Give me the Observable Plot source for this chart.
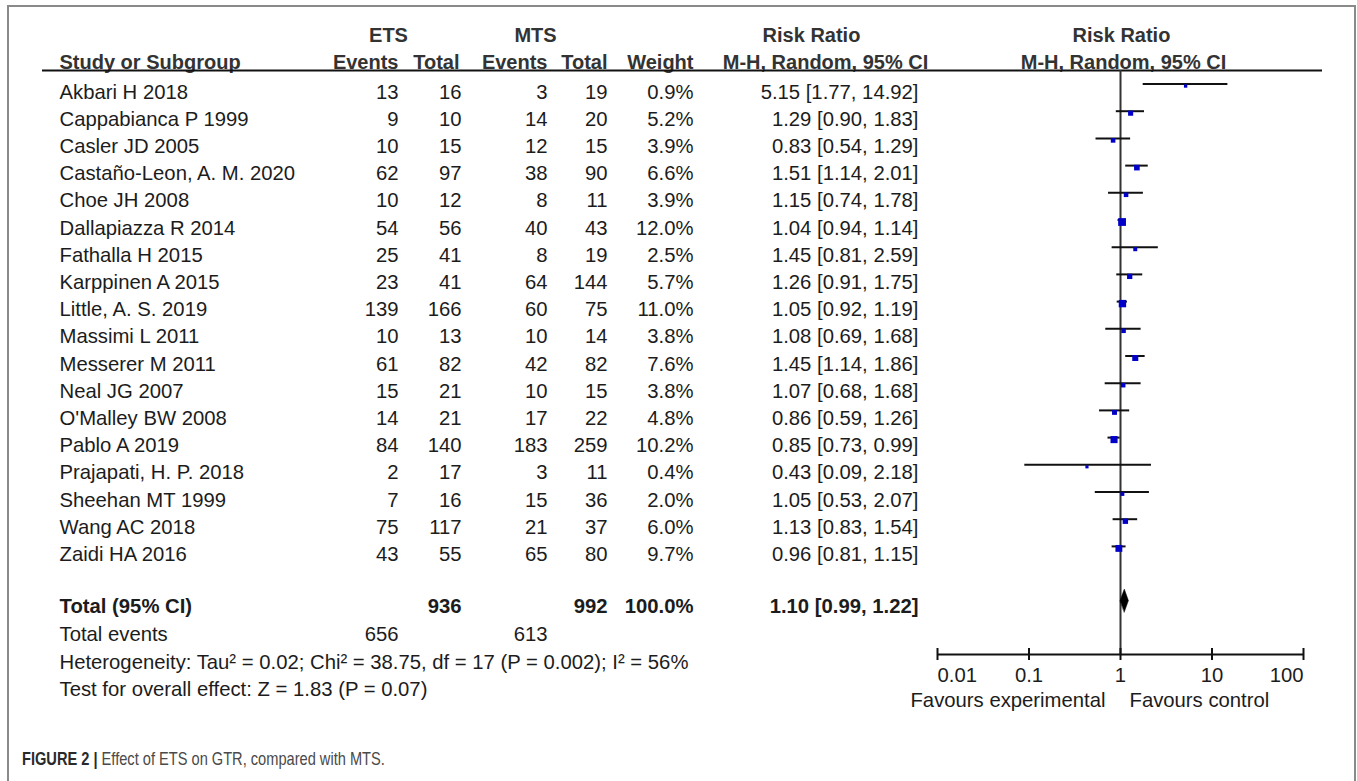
<!DOCTYPE html>
<html>
<head>
<meta charset="utf-8">
<script src="https://cdn.jsdelivr.net/npm/d3@7"></script>
<script src="https://cdn.jsdelivr.net/npm/@observablehq/plot@0.6"></script>
<style>
  html, body { margin: 0; padding: 0; background: #fff; overflow: hidden; width: 1357px; height: 781px; }
  #chart { position: absolute; left: 0; top: 0; z-index: 1; }
  #frame { position: absolute; left: 7px; top: 5px; width: 1349px; height: 830px; border: 2px solid #8a8a8a; box-sizing: border-box; z-index: 2; background: transparent; }
  #caption { position: absolute; left: 22px; top: 748px; z-index: 3; font-family: "Liberation Sans", Arial, sans-serif; font-size: 18.5px; color: #4a4a4a; white-space: nowrap; transform: scaleX(0.79); transform-origin: left center; }
  #caption b { color: #2a2a2a; }
</style>
</head>
<body>
<div id="chart"></div>
<div id="frame"></div>
<div id="caption"><b>FIGURE 2 |</b> Effect of ETS on GTR, compared with MTS.</div>
<script>
// ---------------- data ----------------
const studies = ["Akbari H 2018", "Cappabianca P 1999", "Casler JD 2005", "Castaño-Leon, A. M. 2020", "Choe JH 2008",
  "Dallapiazza R 2014", "Fathalla H 2015", "Karppinen A 2015", "Little, A. S. 2019", "Massimi L 2011",
  "Messerer M 2011", "Neal JG 2007", "O'Malley BW 2008", "Pablo A 2019", "Prajapati, H. P. 2018",
  "Sheehan MT 1999", "Wang AC 2018", "Zaidi HA 2016"];
const etsEvents = [13, 9, 10, 62, 10, 54, 25, 23, 139, 10, 61, 15, 14, 84, 2, 7, 75, 43];
const etsTotal  = [16, 10, 15, 97, 12, 56, 41, 41, 166, 13, 82, 21, 21, 140, 17, 16, 117, 55];
const mtsEvents = [3, 14, 12, 38, 8, 40, 8, 64, 60, 10, 42, 10, 17, 183, 3, 15, 21, 65];
const mtsTotal  = [19, 20, 15, 90, 11, 43, 19, 144, 75, 14, 82, 15, 22, 259, 11, 36, 37, 80];
const weights   = [0.9, 5.2, 3.9, 6.6, 3.9, 12.0, 2.5, 5.7, 11.0, 3.8, 7.6, 3.8, 4.8, 10.2, 0.4, 2.0, 6.0, 9.7];
const riskRatio = [5.15, 1.29, 0.83, 1.51, 1.15, 1.04, 1.45, 1.26, 1.05, 1.08, 1.45, 1.07, 0.86, 0.85, 0.43, 1.05, 1.13, 0.96];
const ciLow     = [1.77, 0.90, 0.54, 1.14, 0.74, 0.94, 0.81, 0.91, 0.92, 0.69, 1.14, 0.68, 0.59, 0.73, 0.09, 0.53, 0.83, 0.81];
const ciHigh    = [14.92, 1.83, 1.29, 2.01, 1.78, 1.14, 2.59, 1.75, 1.19, 1.68, 1.86, 1.68, 1.26, 0.99, 2.18, 2.07, 1.54, 1.15];

const totalEts = 936, totalMts = 992, totalWeight = 100.0;
const totalRR = 1.10, totalLow = 0.99, totalHigh = 1.22;
const totalEventsEts = 656, totalEventsMts = 613;
const tau2 = "0.02", chi2 = "38.75", dfHet = 17, pHet = "0.002", i2 = 56;
const zOverall = "1.83", pOverall = "0.07";

const xTicks = [0.01, 0.1, 1, 10, 100];
const xTickLabels = ["0.01", "0.1", "1", "10", "100"];
const groupHeaders = ["ETS", "MTS", "Risk Ratio", "Risk Ratio"];
const columnHeaders = ["Study or Subgroup", "Events", "Total", "Events", "Total", "Weight", "M-H, Random, 95% CI", "M-H, Random, 95% CI"];
const favours = ["Favours experimental", "Favours control"];

// ---------------- layout ----------------
const W = 1357, H = 720;
const row0 = 91.5, rowStep = 27.2, axisPx = 654;
const axisRow = (axisPx - row0) / rowStep;
const headerRuleRow = (70 - row0) / rowStep;
const totalRow = 18.9, eventsRow = 19.95, hetRow = 20.97, testRow = 21.97;
const col = {study: 59, etsE: 398, etsT: 461, mtsE: 547, mtsT: 607, weight: 693, rr: 918};
const ink = "#1c1c1c", headInk = "#333";
const fs = 20.3;
const fmt2 = v => v.toFixed(2);
const ciText = (e, l, h) => `${fmt2(e)} [${fmt2(l)}, ${fmt2(h)}]`;

const rows = studies.map((s, i) => ({
  i, study: s, etsE: etsEvents[i], etsT: etsTotal[i], mtsE: mtsEvents[i], mtsT: mtsTotal[i],
  w: weights[i], rr: riskRatio[i], lo: ciLow[i], hi: ciHigh[i]
}));

const dh = 11.5 / rowStep;
const diamond = [
  {x: totalLow, y: totalRow}, {x: totalRR, y: totalRow - dh},
  {x: totalHigh, y: totalRow}, {x: totalRR, y: totalRow + dh}
];

const colText = (key, dx, extra = {}) => Plot.text(rows, {
  y: "i", text: d => String(d[key]), frameAnchor: "left", dx, textAnchor: "end",
  fontSize: fs, fill: ink, lineAnchor: "middle", ...extra
});

const footText = (t, y, dx, anchor, bold) => Plot.text([t], {
  y: () => y, text: d => d, frameAnchor: "left", dx, textAnchor: anchor, lineAnchor: "middle",
  fontSize: fs, fill: ink, fontWeight: bold ? "bold" : "normal"
});

const headText = (t, dx, dy, anchor) => Plot.text([t], {
  text: d => d, frameAnchor: "top-left", dx, dy, textAnchor: anchor, lineAnchor: "middle",
  fontSize: 20, fontWeight: "bold", fill: headInk
});

const chart = Plot.plot({
  width: W, height: H,
  marginLeft: 0, marginRight: 0, marginTop: 0, marginBottom: H - axisPx,
  x: {type: "log", domain: [0.01, 100], range: [937, 1303], axis: null},
  y: {type: "linear", domain: [0, axisRow], range: [row0, axisPx], axis: null},
  r: {type: "linear", domain: [0, 12], range: [1.7, 4.4]},
  style: {fontFamily: "'Liberation Sans', Arial, sans-serif", fontSize: "20px", background: "transparent", color: ink, overflow: "visible"},
  marks: [
    // header texts
    headText(groupHeaders[0], 388, 35, "middle"),
    headText(groupHeaders[1], 535, 35, "middle"),
    headText(groupHeaders[2], 811, 35, "middle"),
    headText(groupHeaders[3], 1121, 35, "middle"),
    headText(columnHeaders[0], col.study, 62, "start"),
    headText(columnHeaders[1], col.etsE, 62, "end"),
    headText(columnHeaders[2], col.etsT - 2, 62, "end"),
    headText(columnHeaders[3], col.mtsE, 62, "end"),
    headText(columnHeaders[4], col.mtsT, 62, "end"),
    headText(columnHeaders[5], col.weight, 62, "end"),
    headText(columnHeaders[6], 825, 62, "middle"),
    headText(columnHeaders[7], 1123, 62, "middle"),
    // header rule
    Plot.ruleY([headerRuleRow], {insetLeft: 42, insetRight: 35, stroke: "#111", strokeWidth: 2}),
    // table rows
    Plot.text(rows, {y: "i", text: "study", frameAnchor: "left", dx: col.study, textAnchor: "start", lineAnchor: "middle", fontSize: fs, fill: ink}),
    colText("etsE", col.etsE),
    colText("etsT", col.etsT),
    colText("mtsE", col.mtsE),
    colText("mtsT", col.mtsT),
    Plot.text(rows, {y: "i", text: d => d.w.toFixed(1) + "%", frameAnchor: "left", dx: col.weight, textAnchor: "end", lineAnchor: "middle", fontSize: fs, fill: ink}),
    Plot.text(rows, {y: "i", text: d => ciText(d.rr, d.lo, d.hi), frameAnchor: "left", dx: col.rr, textAnchor: "end", lineAnchor: "middle", fontSize: fs, fill: ink}),
    // totals
    footText("Total (95% CI)", totalRow, col.study, "start", true),
    footText(String(totalEts), totalRow, col.etsT, "end", true),
    footText(String(totalMts), totalRow, col.mtsT, "end", true),
    footText(totalWeight.toFixed(1) + "%", totalRow, col.weight, "end", true),
    footText(ciText(totalRR, totalLow, totalHigh), totalRow, col.rr, "end", true),
    footText("Total events", eventsRow, col.study, "start", false),
    footText(String(totalEventsEts), eventsRow, col.etsE, "end", false),
    footText(String(totalEventsMts), eventsRow, col.mtsE, "end", false),
    footText(`Heterogeneity: Tau² = ${tau2}; Chi² = ${chi2}, df = ${dfHet} (P = ${pHet}); I² = ${i2}%`, hetRow, col.study, "start", false),
    footText(`Test for overall effect: Z = ${zOverall} (P = ${pOverall})`, testRow, col.study, "start", false),
    // forest: line of no effect
    Plot.ruleX([1], {y1: headerRuleRow, y2: axisRow, stroke: "#333", strokeWidth: 2}),
    // confidence intervals
    Plot.ruleY(rows, {y: "i", x1: "lo", x2: "hi", dy: -8, stroke: "#111", strokeWidth: 2}),
    // point estimates
    Plot.dot(rows, {x: "rr", y: "i", r: "w", symbol: "square", fill: "#0000c8", stroke: "none", dy: -6}),
    // pooled diamond
    Plot.line(diamond, {x: "x", y: "y", curve: "linear-closed", fill: "#000", stroke: "#000", strokeWidth: 0.5, dy: -5.5}),
    // axis
    Plot.ruleY([axisRow], {x1: xTicks[0], x2: xTicks[xTicks.length - 1], stroke: "#111", strokeWidth: 2}),
    Plot.ruleX(xTicks, {x: d => d, y1: axisRow - 6 / rowStep, y2: axisRow + 6 / rowStep, stroke: "#111", strokeWidth: 2}),
    Plot.text([0], {x: i => xTicks[i], y: () => axisRow, text: i => xTickLabels[i], dy: 21, textAnchor: "start", lineAnchor: "middle", fontSize: fs, fill: ink}),
    Plot.text([1, 2, 3], {x: i => xTicks[i], y: () => axisRow, text: i => xTickLabels[i], dy: 21, textAnchor: "middle", lineAnchor: "middle", fontSize: fs, fill: ink}),
    Plot.text([4], {x: i => xTicks[i], y: () => axisRow, text: i => xTickLabels[i], dy: 21, textAnchor: "end", lineAnchor: "middle", fontSize: fs, fill: ink}),
    Plot.text([favours[0]], {x: () => 1, y: () => axisRow, text: d => d, dy: 46, dx: -15, textAnchor: "end", lineAnchor: "middle", fontSize: fs, fill: ink}),
    Plot.text([favours[1]], {x: () => 1, y: () => axisRow, text: d => d, dy: 46, dx: 9, textAnchor: "start", lineAnchor: "middle", fontSize: fs, fill: ink})
  ]
});
document.getElementById("chart").appendChild(chart);
</script>
</body>
</html>
